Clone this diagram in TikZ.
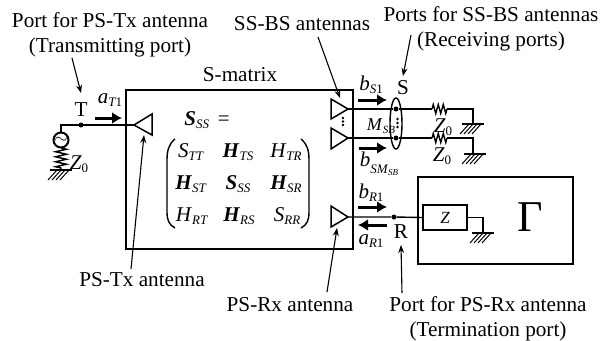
\documentclass[tikz,border=0pt]{standalone}
\usepackage{amsmath}
\usepackage{fontspec}
\setmainfont{Liberation Serif}
\usetikzlibrary{arrows.meta,shapes.geometric}
\usetikzlibrary{decorations.pathmorphing}
\tikzset{
  wire/.style={line width=1.4pt},
  flow/.style={line width=3pt,-{Latex[length=10pt,width=12pt]}},
  pointer/.style={line width=1.1pt,-{Stealth[length=8pt,width=6pt]}},
  antenna/.style={line width=1.5pt,line join=miter},
  label/.style={font=\fontsize{21.2}{25}\selectfont,inner sep=0pt},
  sym/.style={font=\fontsize{21}{22}\selectfont,inner sep=0pt},
  port/.style={circle,fill=black,inner sep=0pt,minimum size=5pt},
  tinydot/.style={circle,fill=black,inner sep=0pt,minimum size=2.8pt},
  res/.style={wire,decorate,decoration={zigzag,segment length=5pt,amplitude=4.5pt}},
  hatch/.style={line width=1pt}
}
\newcommand{\subtxt}[1]{\raisebox{-0.35ex}{\fontsize{13}{13}\selectfont #1}}
\newcommand{\tvar}[2]{\textit{#1}\subtxt{\textit{#2}}}
\newcommand{\bvar}[2]{\textbf{\textit{#1}}\subtxt{\textit{#2}}}
\newcommand{\ground}[2]{%
  \draw[wire] (#1-11,#2) -- (#1+11,#2);
  \foreach \k in {-6,-2,2,6} \draw[hatch] (#1+\k+2,#2) -- (#1+\k-7,#2+10);
}
\begin{document}
\begin{tikzpicture}[x=1pt,y=-1pt,>=Latex]
  \useasboundingbox (0,0) rectangle (602,340);
  % boxes
  \draw[wire] (126,90) rectangle (353,249);
  \draw[wire] (418,177) rectangle (573,264);
  \node[label] (smatrix) at (240,75) {S-matrix};
  \node[font=\fontsize{44}{46}\selectfont,inner sep=0pt] (gamma) at (530,217) {Γ};

  % T port
  \draw[antenna] (134,125) -- (152,114) -- (152,135) -- cycle;
  \coordinate (tipT) at (134,125);
  \node[port] (portT) at (81,125) {};
  \node[label] (labT) at (81,110) {T};
  \node[circle,draw,line width=2pt,minimum size=15pt,inner sep=0pt,font=\fontsize{16}{16}\selectfont] (src) at (61,140) {$\sim$};
  \coordinate (srcB) at (61,148);
  \coordinate (gndT) at (61,169);
  \draw[wire] (src.north) -- (61,125) -- (tipT);
  \draw[res,decoration={zigzag,segment length=5pt,amplitude=5.5pt}] (srcB) -- (gndT);
  \ground{61}{170}
  \node[sym] (zT) at (79,164) {\tvar{Z}{\upshape 0}};
  \draw[flow] (95,118) -- (122,118);
  \node[sym] (aT) at (110,100) {\tvar{a}{T\upshape 1}};

  % S ports
  \draw[antenna] (348,109) -- (331,99) -- (331,119) -- cycle;
  \draw[antenna] (348,138) -- (331,128) -- (331,149) -- cycle;
  \coordinate (tipS) at (348,109);
  \coordinate (tipM) at (348,138);
  \foreach \y in {118,121.5,125} \node[tinydot] at (343,\y) {};
  \node[draw,ellipse,wire,minimum width=12pt,minimum height=51pt,inner sep=0pt] (oval) at (396,123.5) {};
  \node[port] (portS) at (396,109) {};
  \node[port] (portM) at (396,138) {};
  \foreach \y in {119,123,127} \node[tinydot] at (397.5,\y) {};
  \coordinate (resSa) at (432,109);
  \coordinate (resSb) at (447,109);
  \coordinate (resMa) at (432,138);
  \coordinate (resMb) at (447,138);
  \draw[wire] (tipS) -- (portS) -- (resSa);
  \draw[wire] (tipM) -- (portM) -- (resMa);
  \draw[res] (resSa) -- (resSb);
  \draw[res] (resMa) -- (resMb);
  \draw[wire] (resSb) -- (473,109) -- (473,124);
  \draw[wire] (resMb) -- (473,138) -- (473,154);
  \ground{473}{124}
  \ground{475}{154}
  \node[sym] (zS) at (443,127) {\tvar{Z}{\upshape 0}};
  \node[sym] (zM) at (442,156) {\tvar{Z}{\upshape 0}};
  \node[label] (labS) at (403,88) {S};
  \node[sym,font=\fontsize{18}{20}\selectfont] (msb) at (381,126) {\textit{M}\raisebox{-0.35ex}{\fontsize{11}{11}\selectfont\textit{SB}}};
  \draw[flow] (358,100) -- (387,100);
  \draw[flow] (359,148) -- (387,148);
  \node[sym] (bS) at (371,85) {\tvar{b}{S\upshape 1}};
  \node[sym] (bM) at (379,164) {\textit{b}\raisebox{-0.7ex}{\fontsize{13}{13}\selectfont\textit{S}\textit{M}\raisebox{-0.3ex}{\fontsize{9}{9}\selectfont\textit{SB}}}};

  % R port
  \draw[antenna] (348,217) -- (331,206) -- (331,227) -- cycle;
  \coordinate (tipR) at (348,217);
  \node[port] (portR) at (394,217) {};
  \node[draw,wire,minimum width=44pt,minimum height=25pt,inner sep=0pt,font=\fontsize{17}{17}\selectfont\itshape] (zbox) at (445,217.5) {Z};
  \draw[wire] (tipR) -- (portR) -- (zbox.west);
  \draw[wire] (zbox.east) -- (483,217.5) -- (483,233);
  \ground{483}{233}
  \node[label] (labR) at (401,232) {R};
  \draw[flow] (358,207) -- (387,207);
  \draw[flow] (387,225) -- (358,225);
  \node[sym] (bR) at (371,193) {\tvar{b}{R\upshape 1}};
  \node[sym] (aR) at (371,241) {\tvar{a}{R\upshape 1}};

  % matrix
  \node[sym] (seq) at (207,120) {\bvar{S}{SS} \,=};
  \node[sym] (m11) at (191,152) {\tvar{S}{TT}};
  \node[sym] (m12) at (238,152) {\bvar{H}{TS}};
  \node[sym] (m13) at (286,152) {\tvar{H}{TR}};
  \node[sym] (m21) at (191,184) {\bvar{H}{ST}};
  \node[sym] (m22) at (238,184) {\bvar{S}{SS}};
  \node[sym] (m23) at (286,184) {\bvar{H}{SR}};
  \node[sym] (m31) at (192,216) {\tvar{H}{RT}};
  \node[sym] (m32) at (239,216) {\bvar{H}{RS}};
  \node[sym] (m33) at (287,216) {\tvar{S}{RR}};
  \draw[wire] (175,139) .. controls (169,144) and (167,150) .. (167,160) -- (167,212) .. controls (167,220) and (169,225) .. (175,228);
  \draw[wire] (301,139) .. controls (307,144) and (309,150) .. (309,160) -- (309,212) .. controls (309,220) and (307,225) .. (301,228);

  % captions
  \node[label,align=center] (capT) at (110,35) {Port for PS-Tx antenna\\(Transmitting port)};
  \node[label] (capA) at (302,24) {SS-BS antennas};
  \node[label,align=center] (capS) at (491,29) {Ports for SS-BS antennas\\(Receiving ports)};
  \node[label] (capTx) at (142,280) {PS-Tx antenna};
  \node[label] (capRx) at (290,305) {PS-Rx antenna};
  \node[label,align=center] (capR) at (488,319) {Port for PS-Rx antenna\\(Termination port)};
  \coordinate (endT) at (81,93);
  \coordinate (endA) at (340,98);
  \coordinate (endS) at (403,76);
  \coordinate (endTx) at (144,135);
  \coordinate (endRx) at (337,228);
  \coordinate (endR) at (401,245);
  \coordinate (startT) at (72,58);
  \coordinate (startA) at (318,37);
  \coordinate (startS) at (411,35);
  \coordinate (startTx) at (131,269);
  \coordinate (startRx) at (327,292);
  \coordinate (startR) at (402,293);
  \draw[pointer] (startT) -- (endT);
  \draw[pointer] (startA) -- (endA);
  \draw[pointer] (startS) -- (endS);
  \draw[pointer] (startTx) -- (endTx);
  \draw[pointer] (startRx) -- (endRx);
  \draw[pointer] (startR) -- (endR);
\end{tikzpicture}
\end{document}
